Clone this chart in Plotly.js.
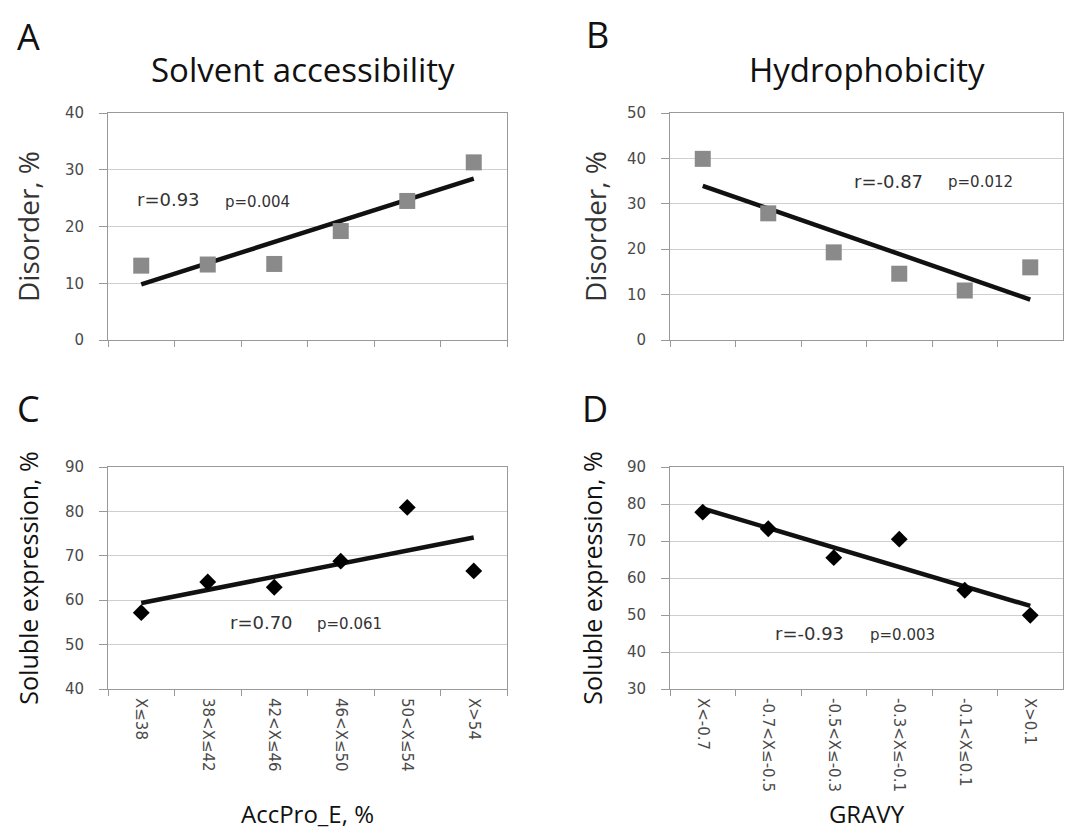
<!DOCTYPE html>
<html>
<head>
<meta charset="utf-8">
<script src="https://cdn.plot.ly/plotly-3.0.1.min.js"></script>
<style>html,body{margin:0;padding:0;background:#fff;}#chart{width:1072px;height:830px;}</style>
</head>
<body>
<div id="chart"></div>
<script>
// ---- data ----
const accCategories = ["X≤38", "38<X≤42", "42<X≤46", "46<X≤50", "50<X≤54", "X>54"];
const gravyCategories = ["X<-0.7", "-0.7<X≤-0.5", "-0.5<X≤-0.3", "-0.3<X≤-0.1", "-0.1<X≤0.1", "X>0.1"];
const disorderByAcc = [13.1, 13.3, 13.4, 19.2, 24.5, 31.3];
const disorderByGravy = [39.9, 27.9, 19.3, 14.6, 10.9, 16.0];
const solubleByAcc = [57.2, 64.1, 62.9, 68.8, 80.9, 66.6];
const solubleByGravy = [77.8, 73.3, 65.5, 70.5, 56.7, 49.9];
const panelLetters = ["A", "B", "C", "D"];
const panelTitles = ["Solvent accessibility", "Hydrophobicity"];
const statsR = ["r=0.93", "r=-0.87", "r=0.70", "r=-0.93"];
const statsP = ["p=0.004", "p=0.012", "p=0.061", "p=0.003"];

// least-squares trend line through the category positions
function trend(cats, vals) {
  const n = vals.length;
  const xs = vals.map((_, i) => i);
  const mx = xs.reduce((a, b) => a + b, 0) / n;
  const my = vals.reduce((a, b) => a + b, 0) / n;
  let sxy = 0, sxx = 0;
  for (let i = 0; i < n; i++) { sxy += (xs[i] - mx) * (vals[i] - my); sxx += (xs[i] - mx) ** 2; }
  const b = sxy / sxx, a = my - b * mx;
  return { x: [cats[0], cats[n - 1]], y: [a, a + b * (n - 1)] };
}

const W = 1072, H = 830;
const px = v => v / W, py = v => 1 - v / H;

const sqMarker = { symbol: "square", size: 16, color: "#8a8a8a" };
const dmMarker = { symbol: "diamond", size: 13, color: "#000" };
const lineStyle = { color: "#111", width: 4.5 };

const panels = [
  { xa: "x", ya: "y", cats: accCategories, vals: disorderByAcc, marker: sqMarker },
  { xa: "x2", ya: "y2", cats: gravyCategories, vals: disorderByGravy, marker: sqMarker },
  { xa: "x3", ya: "y3", cats: accCategories, vals: solubleByAcc, marker: dmMarker },
  { xa: "x4", ya: "y4", cats: gravyCategories, vals: solubleByGravy, marker: dmMarker }
];

const data = [];
panels.forEach(p => {
  const t = trend(p.cats, p.vals);
  data.push({ type: "scatter", mode: "lines", x: t.x, y: t.y, xaxis: p.xa, yaxis: p.ya, line: lineStyle, hoverinfo: "skip" });
  data.push({ type: "scatter", mode: "markers", x: p.cats, y: p.vals, xaxis: p.xa, yaxis: p.ya, marker: p.marker });
});

const tickFont = { family: "DejaVu Sans", size: 15, color: "#4a4a4a" };
function xAxis(domain, cats, showLabels, title, standoff) {
  const ax = {
    domain: domain, type: "category", categoryorder: "array", categoryarray: cats,
    range: [-0.5, cats.length - 0.5], tickson: "boundaries", ticks: "outside", ticklen: 6,
    tickcolor: "#999", showgrid: false, zeroline: false, showline: true, linecolor: "#999",
    mirror: true, linewidth: 1, tickangle: 90, tickfont: tickFont, showticklabels: showLabels,
    ticklabelstandoff: 5, fixedrange: true
  };
  if (title) ax.title = { text: title, font: { family: "Open Sans", size: 24, color: "#111" }, standoff: standoff };
  return ax;
}
function yAxis(domain, anchor, range, title, titleSize, titleColor, standoff) {
  return {
    domain: domain, anchor: anchor, range: range, dtick: 10, ticks: "outside", ticklen: 8,
    tickcolor: "#999", showgrid: true, gridcolor: "#cfcfcf", gridwidth: 1, zeroline: false,
    showline: true, linecolor: "#999", mirror: true, tickfont: tickFont, ticklabelstandoff: 12,
    title: { text: title, font: { family: "Open Sans", size: titleSize, color: titleColor }, standoff: standoff },
    fixedrange: true
  };
}

const xLeft = [px(108), px(507)], xRight = [px(670), px(1063)];
const yTop = [py(340), py(113)], yBot = [py(689), py(467)];

const annFont = (s, c) => ({ family: "DejaVu Sans", size: s, color: c || "#333" });
const annotations = [];
const letterPos = [[28, 36], [597, 35], [28, 408], [595, 408]];
panelLetters.forEach((L, i) => annotations.push({
  xref: "paper", yref: "paper", x: px(letterPos[i][0]), y: py(letterPos[i][1]), xanchor: "center", yanchor: "middle",
  text: L, showarrow: false, font: { family: "Open Sans", size: 36, color: "#111" }
}));
const titlePos = [[303, 70], [867, 70]];
panelTitles.forEach((T, i) => annotations.push({
  xref: "paper", yref: "paper", x: px(titlePos[i][0]), y: py(titlePos[i][1]), xanchor: "center", yanchor: "middle",
  text: T, showarrow: false, font: { family: "Open Sans", size: 33, color: "#111" }
}));
// r / p labels placed in each panel's data coordinates
const rPos = [[-0.09, 24.7], [2.28, 34.9], [1.31, 54.9], [1.08, 44.9]];
const pPos = [[1.23, 24.4], [3.72, 34.7], [2.61, 54.6], [2.52, 44.5]];
panels.forEach((p, i) => {
  annotations.push({ xref: p.xa, yref: p.ya, x: rPos[i][0], y: rPos[i][1], xanchor: "left", yanchor: "middle",
    text: statsR[i], showarrow: false, font: annFont(18) });
  annotations.push({ xref: p.xa, yref: p.ya, x: pPos[i][0], y: pPos[i][1], xanchor: "left", yanchor: "middle",
    text: statsP[i], showarrow: false, font: annFont(15) });
});

const layout = {
  width: W, height: H, margin: { l: 0, r: 0, t: 0, b: 0 },
  paper_bgcolor: "#fff", plot_bgcolor: "#fff", showlegend: false,
  xaxis: Object.assign(xAxis(xLeft, accCategories, false), { anchor: "y" }),
  xaxis2: Object.assign(xAxis(xRight, gravyCategories, false), { anchor: "y2" }),
  xaxis3: Object.assign(xAxis(xLeft, accCategories, true, "AccPro_E, %", 37), { anchor: "y3" }),
  xaxis4: Object.assign(xAxis(xRight, gravyCategories, true, "GRAVY", 20), { anchor: "y4" }),
  yaxis: yAxis(yTop, "x", [0, 40], "Disorder, %", 28, "#333", 17),
  yaxis2: yAxis(yTop, "x2", [0, 50], "Disorder, %", 28, "#333", 12),
  yaxis3: yAxis(yBot, "x3", [40, 90], "Soluble expression, %", 25, "#111", 19),
  yaxis4: yAxis(yBot, "x4", [30, 90], "Soluble expression, %", 25, "#111", 17),
  annotations: annotations
};

Plotly.newPlot("chart", data, layout, { staticPlot: true, displayModeBar: false });
</script>
</body>
</html>
